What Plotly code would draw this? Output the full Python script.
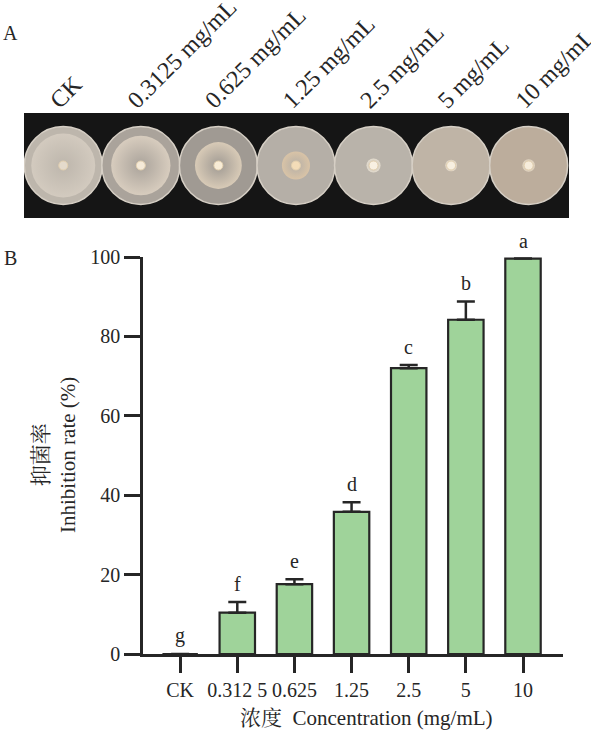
import plotly.graph_objects as go

# Panel A: plate photos (drawn as stacked markers)
plate_labels = ['CK', '0.3125 mg/mL', '0.625 mg/mL', '1.25 mg/mL', '2.5 mg/mL', '5 mg/mL', '10 mg/mL']
colony_frac = [0.82, 0.76, 0.60, 0.36, 0.18, 0.15, 0.16]   # colony diameter / plate diameter
plate_color = ['#bdb6ac', '#aaa39b', '#a09a93', '#b5afa7', '#b9b3aa', '#bfb4a6', '#bcad9c']
colony_color = ['#dcd3c7', '#ebdecd', '#f0dfc6', '#e8cca6', '#f7efdf', '#f4eada', '#f2e6d2']
plug_color = ['#e4dacb', '#f5ead8', '#f8ecd6', '#f3dcb8', '#f8f0e2', '#f7efe0', '#f6ecdb']

# Panel B: inhibition rate
conc_labels = ['CK', '0.312 5', '0.625', '1.25', '2.5', '5', '10']
inhibition = [0, 10.4, 17.6, 35.8, 72.0, 84.2, 99.6]
err_up = [None, 2.7, 1.2, 2.4, 0.8, 4.6, None]
letters = ['g', 'f', 'e', 'd', 'c', 'b', 'a']

FONT = 'Liberation Serif, Noto Serif CJK SC, Noto Sans CJK SC'
INK = '#262626'
PLATE_PX = 78
W, H = 591, 733

fig = go.Figure()

# plates
fig.add_trace(go.Scatter(
    x=plate_labels, y=[0] * len(plate_labels), mode='markers', xaxis='x2', yaxis='y2',
    marker=dict(size=PLATE_PX, color=plate_color, line=dict(color='#d6cfc5', width=1.5)),
    hoverinfo='skip', showlegend=False))
fig.add_trace(go.Scatter(
    x=plate_labels, y=[0] * len(plate_labels), mode='markers', xaxis='x2', yaxis='y2',
    marker=dict(size=[f * PLATE_PX for f in colony_frac], color=colony_color,
                gradient=dict(type='radial', color=plate_color), line=dict(width=0)),
    hoverinfo='skip', showlegend=False))
fig.add_trace(go.Scatter(
    x=plate_labels, y=[0] * len(plate_labels), mode='markers', xaxis='x2', yaxis='y2',
    marker=dict(size=9, color=plug_color, line=dict(color='#e2cfae', width=1)),
    hoverinfo='skip', showlegend=False))

# bars
fig.add_trace(go.Bar(
    x=conc_labels, y=inhibition, width=0.62,
    marker=dict(color='#9fd39a', line=dict(color=INK, width=2.2)),
    error_y=dict(type='data', symmetric=False, array=err_up,
                 arrayminus=[0] * len(err_up), color=INK, thickness=2.5, width=9),
    showlegend=False))

# significance letters (x by category index)
for i, (v, e, l) in enumerate(zip(inhibition, err_up, letters)):
    fig.add_annotation(x=i, y=v + (e or 0), text=l, showarrow=False,
                       xref='x', yref='y', xanchor='center', yanchor='bottom', yshift=5,
                       font=dict(size=20, color=INK, family=FONT))

# black background behind plates
fig.add_shape(type='rect', xref='x2 domain', yref='y2 domain', x0=0, x1=1, y0=0, y1=1,
              fillcolor='#151515', line=dict(width=0), layer='below')

axis_font = dict(size=20, color=INK, family=FONT)
fig.update_layout(
    width=W, height=H,
    margin=dict(l=0, r=0, t=0, b=0),
    paper_bgcolor='white', plot_bgcolor='rgba(0,0,0,0)',
    font=dict(family=FONT, color=INK),
    xaxis=dict(type='category', domain=[143 / W, 563 / W], range=[-0.65, 6.7],
               showline=True, linewidth=2.5, linecolor=INK, ticks='outside', ticklen=16,
               tickwidth=2.5, tickcolor=INK, tickfont=axis_font, tickangle=0,
               showgrid=False, zeroline=False, automargin=False),
    yaxis=dict(domain=[(H - 654) / H, (H - 257) / H], range=[0, 100],
               tickvals=[0, 20, 40, 60, 80, 100], showline=True, linewidth=2.5,
               linecolor=INK, ticks='outside', ticklen=16, tickwidth=2.5, tickcolor=INK,
               tickfont=axis_font, showgrid=False, zeroline=False, automargin=False),
    xaxis2=dict(type='category', domain=[24 / W, 569 / W], range=[-0.506, 6.52],
                anchor='y2', side='top', tickangle=-45, ticks='', showline=False,
                showgrid=False, zeroline=False, tickfont=dict(size=24, color=INK, family=FONT),
                ticklabelshift=-12, ticklabelstandoff=-6, automargin=False),
    yaxis2=dict(domain=[(H - 218) / H, (H - 113) / H], range=[-1, 1],
                anchor='x2', visible=False),
)

fig.add_annotation(x=54 / W, y=(H - 455) / H, xref='paper', yref='paper',
                   xanchor='center', yanchor='middle',
                   text='抑菌率<br>Inhibition rate (%)', textangle=-90, showarrow=False,
                   font=dict(size=21, color=INK, family=FONT))
fig.add_annotation(x=366 / W, y=(H - 718) / H, xref='paper', yref='paper',
                   xanchor='center', yanchor='middle',
                   text='浓度\u2002Concentration (mg/mL)', showarrow=False,
                   font=dict(size=21, color=INK, family=FONT))
fig.add_annotation(x=10 / W, y=(H - 33) / H, xref='paper', yref='paper',
                   xanchor='center', yanchor='middle',
                   text='A', showarrow=False, font=dict(size=20, color=INK, family=FONT))
fig.add_annotation(x=10 / W, y=(H - 258) / H, xref='paper', yref='paper',
                   xanchor='center', yanchor='middle',
                   text='B', showarrow=False, font=dict(size=20, color=INK, family=FONT))

# drop the default 8px page margin so the figure sits at the window's corner
fig.write_html('out.html', config={'displayModeBar': False},
               post_script="document.body.style.margin='0';")
